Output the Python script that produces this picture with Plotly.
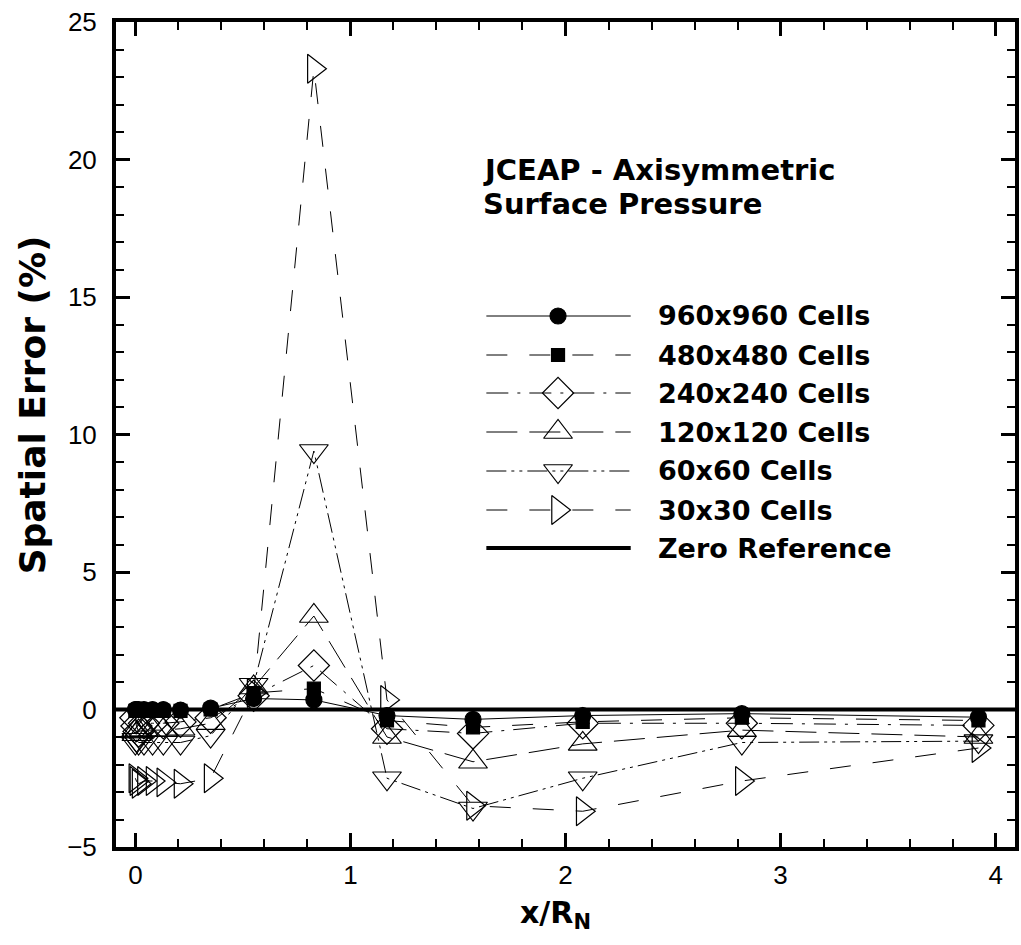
import plotly.graph_objects as go

# ---------------- data ----------------
x_pos = [0.0, 0.005, 0.015, 0.04, 0.08, 0.13, 0.21, 0.35, 0.55, 0.83, 1.17, 1.57, 2.08, 2.82, 3.92]

err_960 = [0.0, 0.0, 0.0, 0.0, 0.0, 0.0, -0.02, 0.05, 0.40, 0.35, -0.22, -0.36, -0.22, -0.15, -0.28]
err_480 = [-0.05, -0.05, -0.05, -0.05, -0.05, -0.05, -0.05, 0.0, 0.60, 0.76, -0.40, -0.65, -0.45, -0.30, -0.40]
err_240 = [-0.30, -0.60, -0.80, -0.50, -0.50, -0.50, -0.45, -0.30, 0.50, 1.60, -0.70, -0.87, -0.50, -0.50, -0.58]
err_120 = [-0.80, -0.90, -0.80, -0.75, -0.75, -0.75, -0.70, -0.50, 0.80, 3.40, -1.00, -1.90, -1.25, -0.75, -1.00]
err_60 = [-1.20, -1.10, -1.20, -1.20, -1.20, -1.20, -1.20, -0.95, 0.90, 9.40, -2.50, -3.60, -2.50, -1.20, -1.15]
err_30 = [-2.50, -2.60, -2.70, -2.60, -2.60, -2.65, -2.70, -2.50, 0.60, 23.30, 0.35, -3.50, -3.70, -2.60, -1.40]

series_names = ["960x960 Cells", "480x480 Cells", "240x240 Cells", "120x120 Cells",
                "60x60 Cells", "30x30 Cells"]
series_values = [err_960, err_480, err_240, err_120, err_60, err_30]

x_range = [-0.09, 4.09]
y_range = [-5, 25]
zero_ref_y = [0, 0]

# ---------------- styles ----------------
styles = [
    dict(dash="solid", symbol="circle", size=16),
    dict(dash="21px,22px", symbol="square", size=13),
    dict(dash="22px,9px,3px,9px", symbol="diamond-open", size=24),
    dict(dash="31px,12px", symbol="triangle-up-open", size=25),
    dict(dash="20px,5px,3px,5px,3px,5px", symbol="triangle-down-open", size=25),
    dict(dash="21px,22px", symbol="triangle-right-open", size=25),
]

fig = go.Figure()

# zero reference line
fig.add_trace(go.Scatter(x=x_range, y=zero_ref_y, mode="lines",
                         line=dict(color="black", width=4), showlegend=False,
                         hoverinfo="skip"))

for name, vals, st in zip(series_names, series_values, styles):
    fig.add_trace(go.Scatter(
        x=x_pos, y=vals, mode="lines+markers", name=name, showlegend=False,
        line=dict(color="black", width=1, dash=st["dash"]),
        marker=dict(symbol=st["symbol"], size=st["size"], color="black",
                    line=dict(color="black", width=1.2)),
    ))

# ---------------- manual legend (on hidden overlay axes) ----------------
plot_l, plot_r, plot_t, plot_b = 116, 1019, 22, 847
W = plot_r - plot_l
H = plot_b - plot_t
def fx(px):
    return (px - plot_l) / W
def fy(py):
    return (plot_b - py) / H

leg_x0, leg_x1, leg_xm, leg_text_x = 488, 633, 560, 658
leg_rows = [316, 355, 393, 432, 471, 510, 548]

for i, (name, st) in enumerate(zip(series_names, styles)):
    yy = fy(leg_rows[i])
    fig.add_trace(go.Scatter(x=[fx(leg_x0), fx(leg_x1)], y=[yy, yy], mode="lines",
                             xaxis="x2", yaxis="y2", showlegend=False, hoverinfo="skip",
                             line=dict(color="black", width=1, dash=st["dash"])))
    fig.add_trace(go.Scatter(x=[fx(leg_xm)], y=[yy], mode="markers",
                             xaxis="x2", yaxis="y2", showlegend=False, hoverinfo="skip",
                             marker=dict(symbol=st["symbol"], size=st["size"], color="black",
                                         line=dict(color="black", width=1.2))))
yy = fy(leg_rows[6])
fig.add_trace(go.Scatter(x=[fx(leg_x0), fx(leg_x1)], y=[yy, yy], mode="lines",
                         xaxis="x2", yaxis="y2", showlegend=False, hoverinfo="skip",
                         line=dict(color="black", width=4)))

bold_family = "DejaVu Sans"
legend_font = dict(family=bold_family, size=27, color="black", weight="bold")
annotations = []
for i, name in enumerate(series_names + ["Zero Reference"]):
    annotations.append(dict(x=fx(leg_text_x), y=fy(leg_rows[i]), xref="paper", yref="paper",
                            text=name, showarrow=False, xanchor="left", yanchor="middle",
                            font=legend_font))

# chart label (two lines, tight spacing)
label_font = dict(family=bold_family, size=29, color="black", weight="bold")
for txt, py in [("JCEAP - Axisymmetric", 170), ("Surface Pressure", 204)]:
    annotations.append(dict(x=fx(483), y=fy(py), xref="paper", yref="paper",
                            text=txt, align="left", showarrow=False,
                            xanchor="left", yanchor="middle", font=label_font))
# axis titles
annotations.append(dict(x=fx(32), y=fy(405), xref="paper", yref="paper",
                        text="Spatial Error (%)", textangle=-90, showarrow=False,
                        xanchor="center", yanchor="middle",
                        font=dict(family=bold_family, size=36, color="black", weight="bold")))
annotations.append(dict(x=fx(557), y=fy(914), xref="paper", yref="paper",
                        text="x/R<sub>N</sub>", showarrow=False,
                        xanchor="center", yanchor="middle",
                        font=dict(family=bold_family, size=30, color="black", weight="bold")))

axis_common = dict(showline=True, linewidth=4, linecolor="black", mirror="allticks",
                   ticks="inside", ticklen=14, tickwidth=3, tickcolor="black",
                   showgrid=False, zeroline=False,
                   tickfont=dict(family="Liberation Sans", size=26, color="black"))

fig.update_layout(
    width=1021, height=945,
    margin=dict(l=plot_l, r=1021 - plot_r, t=plot_t, b=945 - plot_b),
    paper_bgcolor="white", plot_bgcolor="white",
    xaxis=dict(range=x_range, dtick=1, tick0=0,
               minor=dict(dtick=0.2, ticks="inside", ticklen=8, tickwidth=1.5, tickcolor="black"),
               ticklabelstandoff=2, **axis_common),
    yaxis=dict(range=y_range, dtick=5, tick0=0,
               minor=dict(dtick=1, ticks="inside", ticklen=8, tickwidth=1.5, tickcolor="black"),
               ticklabelstandoff=10, **axis_common),
    xaxis2=dict(overlaying="x", range=[0, 1], visible=False),
    yaxis2=dict(overlaying="y", range=[0, 1], visible=False),
    annotations=annotations,
    showlegend=False,
)

fig.write_html("out.html")
